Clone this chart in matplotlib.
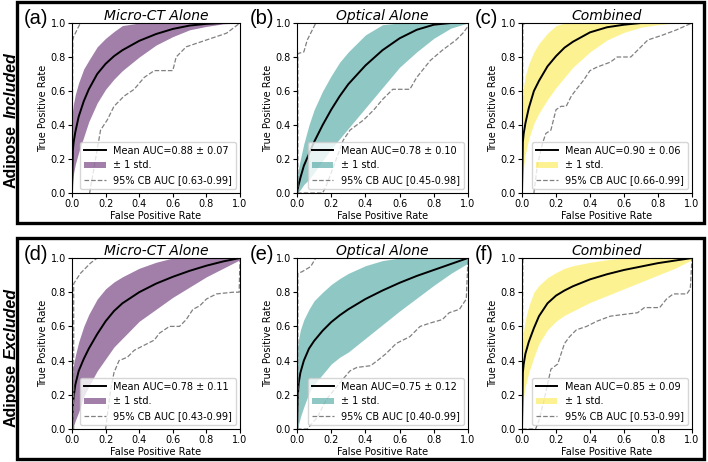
import matplotlib
matplotlib.use("Agg")
import matplotlib.pyplot as plt
from matplotlib.patches import Rectangle
import numpy as np

# shared FPR grid for mean curve and +/- 1 std band
fpr_grid = [0, 0.005, 0.01, 0.02, 0.04, 0.07, 0.1, 0.15, 0.2, 0.25, 0.3, 0.4, 0.5, 0.6, 0.7, 0.8, 0.9, 1.0]

# (a) Micro-CT alone, adipose included
a_mean = [0, .25, .30, .36, .45, .54, .61, .70, .76, .805, .84, .895, .935, .965, .985, .995, 1.0, 1.0]
a_hi = [.45, .50, .53, .58, .65, .73, .78, .86, .91, .95, .985, 1, 1, 1, 1, 1, 1, 1]
a_lo = [0, .08, .12, .17, .24, .33, .42, .53, .61, .67, .72, .80, .87, .92, .96, .98, .995, 1.0]
a_cb_hi_x = [0, 0.005, 0.01, 0.05, 1.0]
a_cb_hi_y = [0, 0.90, 0.92, 1.0, 1.0]
a_cb_lo_x = [0.105, 0.17, 0.21, 0.25, 0.31, 0.37, 0.43, 0.49, 0.60, 0.62, 0.68, 0.80, 0.92, 1.0]
a_cb_lo_y = [0, 0.37, 0.43, 0.51, 0.57, 0.61, 0.68, 0.72, 0.72, 0.80, 0.86, 0.90, 0.94, 1.0]

# (b) Optical alone, adipose included
b_mean = [0, .03, .05, .09, .16, .23, .30, .40, .49, .57, .64, .75, .84, .91, .96, .99, 1.0, 1.0]
b_hi = [.08, .12, .15, .20, .29, .40, .49, .60, .69, .77, .83, .93, .99, 1, 1, 1, 1, 1]
b_lo = [0, 0, .01, .02, .05, .08, .12, .19, .26, .32, .38, .50, .62, .74, .83, .91, .97, 1.0]
b_cb_hi_x = [0, 0.005, 0.005, 0.04, 0.06, 0.11, 1.0]
b_cb_hi_y = [0, 0, 0.82, 0.83, 0.90, 1.0, 1.0]
b_cb_lo_x = [0, 0.15, 0.17, 0.23, 0.27, 0.31, 0.39, 0.45, 0.50, 0.56, 0.66, 0.70, 0.78, 0.85, 0.93, 0.97, 1.0]
b_cb_lo_y = [0, 0, 0.04, 0.20, 0.31, 0.37, 0.43, 0.49, 0.55, 0.61, 0.61, 0.68, 0.78, 0.84, 0.90, 0.94, 0.98]

# (c) Combined, adipose included
c_mean = [0, .30, .35, .41, .50, .60, .66, .745, .805, .855, .89, .945, .975, .99, 1.0, 1.0, 1.0, 1.0]
c_hi = [.50, .58, .63, .69, .76, .83, .88, .94, .985, 1, 1, 1, 1, 1, 1, 1, 1, 1]
c_lo = [0, .10, .16, .23, .32, .41, .47, .55, .62, .68, .74, .83, .90, .945, .975, .99, 1.0, 1.0]
c_cb_hi_x = [0, 0.005, 0.02, 1.0]
c_cb_hi_y = [0, 0.99, 1.0, 1.0]
c_cb_lo_x = [0.07, 0.09, 0.12, 0.14, 0.17, 0.20, 0.23, 0.26, 0.29, 0.32, 0.36, 0.40, 0.44, 0.52,
             0.56, 0.64, 0.68, 0.74, 0.83, 0.91, 1.0]
c_cb_lo_y = [0, 0.16, 0.29, 0.35, 0.37, 0.49, 0.51, 0.51, 0.57, 0.61, 0.66, 0.72, 0.74, 0.77,
             0.80, 0.80, 0.84, 0.90, 0.93, 0.96, 1.0]

# (d) Micro-CT alone, adipose excluded
d_mean = [0, .14, .19, .26, .34, .41, .47, .555, .63, .69, .735, .80, .85, .89, .925, .955, .98, 1.0]
d_hi = [.30, .35, .38, .43, .51, .60, .67, .76, .82, .86, .89, .94, .975, 1, 1, 1, 1, 1]
d_lo = [0, 0, .02, .05, .10, .19, .25, .34, .41, .48, .53, .63, .70, .77, .83, .89, .94, .99]
d_cb_hi_x = [0, 0.01, 0.01, 0.05, 0.11, 0.15, 1.0]
d_cb_hi_y = [0, 0, 0.85, 0.91, 0.97, 1.0, 1.0]
d_cb_lo_x = [0.2, 0.23, 0.25, 0.28, 0.33, 0.37, 0.43, 0.49, 0.52, 0.58, 0.64, 0.68, 0.72, 0.76,
             0.80, 0.86, 0.96, 0.995, 1.0]
d_cb_lo_y = [0, 0.23, 0.33, 0.40, 0.42, 0.46, 0.49, 0.52, 0.56, 0.60, 0.60, 0.64, 0.70, 0.72,
             0.76, 0.79, 0.80, 0.80, 1.0]

# (e) Optical alone, adipose excluded
e_mean = [0, .20, .27, .33, .40, .47, .515, .575, .625, .665, .70, .76, .81, .855, .895, .93, .965, 1.0]
e_hi = [.45, .50, .53, .58, .64, .70, .75, .80, .845, .88, .91, .955, .985, 1, 1, 1, 1, 1]
e_lo = [0, .01, .03, .07, .13, .21, .26, .32, .38, .42, .45, .53, .61, .69, .765, .84, .91, .97]
e_cb_hi_x = [0, 0.005, 0.005, 0.03, 0.08, 0.11, 1.0]
e_cb_hi_y = [0, 0, 0.91, 0.92, 0.95, 1.0, 1.0]
e_cb_lo_x = [0, 0.06, 0.12, 0.17, 0.25, 0.31, 0.35, 0.43, 0.47, 0.52, 0.58, 0.66, 0.72, 0.78,
             0.85, 0.89, 0.95, 0.99, 1.0]
e_cb_lo_y = [0, 0, 0.07, 0.17, 0.27, 0.34, 0.36, 0.37, 0.40, 0.44, 0.50, 0.54, 0.60, 0.62,
             0.64, 0.68, 0.70, 0.76, 1.0]

# (f) Combined, adipose excluded
f_mean = [0, .33, .38, .44, .51, .59, .66, .735, .78, .81, .835, .875, .905, .93, .95, .97, .985, 1.0]
f_hi = [.45, .53, .58, .64, .72, .80, .84, .885, .915, .94, .955, .975, .99, 1, 1, 1, 1, 1]
f_lo = [0, .12, .19, .25, .33, .42, .50, .58, .63, .665, .69, .74, .78, .82, .86, .90, .94, .99]
f_cb_hi_x = [0, 0.005, 0.02, 1.0]
f_cb_hi_y = [0, 0.99, 1.0, 1.0]
f_cb_lo_x = [0, 0.08, 0.10, 0.13, 0.17, 0.21, 0.25, 0.28, 0.32, 0.38, 0.44, 0.52, 0.68, 0.72,
             0.81, 0.85, 0.89, 0.97, 0.99, 1.0]
f_cb_lo_y = [0, 0, 0.05, 0.17, 0.35, 0.38, 0.50, 0.54, 0.58, 0.60, 0.63, 0.66, 0.68, 0.71,
             0.71, 0.76, 0.79, 0.79, 0.82, 1.0]

titles = ["Micro-CT Alone", "Optical Alone", "Combined"] * 2
panel_tags = ["(a)", "(b)", "(c)", "(d)", "(e)", "(f)"]
mean_auc = ["0.88 ± 0.07", "0.78 ± 0.10", "0.90 ± 0.06", "0.78 ± 0.11", "0.75 ± 0.12", "0.85 ± 0.09"]
cb_auc = ["0.63-0.99", "0.45-0.98", "0.66-0.99", "0.43-0.99", "0.40-0.99", "0.53-0.99"]
row_labels = [("Adipose", "Included"), ("Adipose", "Excluded")]

panels = [
    (a_mean, a_hi, a_lo, a_cb_hi_x, a_cb_hi_y, a_cb_lo_x, a_cb_lo_y),
    (b_mean, b_hi, b_lo, b_cb_hi_x, b_cb_hi_y, b_cb_lo_x, b_cb_lo_y),
    (c_mean, c_hi, c_lo, c_cb_hi_x, c_cb_hi_y, c_cb_lo_x, c_cb_lo_y),
    (d_mean, d_hi, d_lo, d_cb_hi_x, d_cb_hi_y, d_cb_lo_x, d_cb_lo_y),
    (e_mean, e_hi, e_lo, e_cb_hi_x, e_cb_hi_y, e_cb_lo_x, e_cb_lo_y),
    (f_mean, f_hi, f_lo, f_cb_hi_x, f_cb_hi_y, f_cb_lo_x, f_cb_lo_y),
]

cmap = plt.get_cmap("viridis")
band_colors = [cmap(0.0), cmap(0.5), cmap(1.0)] * 2

W, H = 708, 462
fig = plt.figure(figsize=(W / 100, H / 100), dpi=100)

# axes boxes in pixels: left, top, right, bottom
col_x = [(72, 240), (297, 468), (522, 692)]
row_y = [(23, 193), (258, 429)]
tag_x = [24, 250, 475]
tag_y = [19, 255]

for i, (mean, hi, lo, hx, hy, lx, ly) in enumerate(panels):
    r, c = divmod(i, 3)
    x0, x1 = col_x[c]
    y0, y1 = row_y[r]
    ax = fig.add_axes([x0 / W, 1 - y1 / H, (x1 - x0) / W, (y1 - y0) / H])

    ax.plot(fpr_grid, mean, color="black", lw=1.4, label=f"Mean AUC={mean_auc[i]}")
    ax.fill_between(fpr_grid, lo, hi, color=band_colors[i], alpha=0.5, lw=0, label="± 1 std.")
    ax.plot(hx, hy, color="gray", ls="--", lw=0.9, label=f"95% CB AUC [{cb_auc[i]}]")
    ax.plot(lx, ly, color="gray", ls="--", lw=0.9)

    ax.set_xlim(0, 1)
    ax.set_ylim(0, 1)
    ax.set_xticks(np.arange(0, 1.01, 0.2))
    ax.set_yticks(np.arange(0, 1.01, 0.2))
    ax.tick_params(labelsize=7, length=3, pad=1.5)
    ax.set_xlabel("False Positive Rate", fontsize=7, labelpad=1)
    ax.set_ylabel("True Positive Rate", fontsize=7, labelpad=2)
    ax.set_title(titles[i], fontsize=10, style="italic", pad=2)
    ax.legend(loc="lower right", fontsize=7, borderaxespad=0.4, handlelength=2.2)

    fig.text(tag_x[c] / W, 1 - tag_y[r] / H, panel_tags[i], fontsize=14.5,
             family="Liberation Sans", ha="left", va="center")

# framing boxes around each row
for top, bot in [(2, 223), (238, 459)]:
    fig.add_artist(Rectangle((17 / W, 1 - bot / H), 687 / W, (bot - top) / H,
                             transform=fig.transFigure, fill=False, ec="black", lw=2.4))

# rotated row labels: plain word + italic word
for (word1, word2), (bottom_px, split_px) in zip(row_labels, [(188, 118), (427, 359)]):
    fig.text(11 / W, 1 - bottom_px / H, word1, rotation=90, fontsize=11.5, weight="bold",
             family="Liberation Sans", ha="center", va="bottom")
    fig.text(11 / W, 1 - split_px / H, word2, rotation=90, fontsize=11.5, weight="bold",
             style="italic", family="Liberation Sans", ha="center", va="bottom")

fig.savefig("out.png", dpi=100)
